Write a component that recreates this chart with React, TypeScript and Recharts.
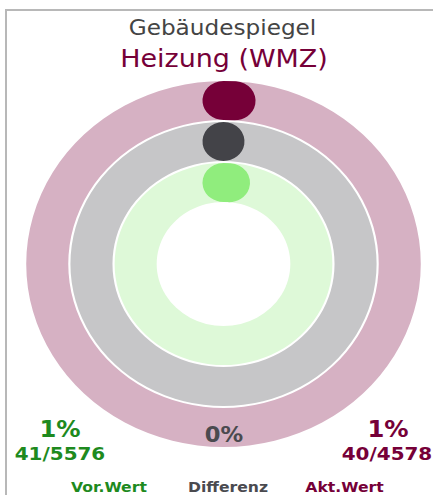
import { RadialBarChart, RadialBar, PolarAngleAxis, Cell } from "recharts"

const categories = ["Vor.Wert", "Differenz", "Akt.Wert"]
const percents = [1, 0, 1]
const fractions = ["41/5576", "", "40/4578"]
const FULL_SCALE = 100

const BAR_COLORS = ["#90ed7d", "#434348", "#760038"]
const TRACK_COLORS = ["#def9d8", "#c6c6c8", "#d6b1c3"]
const TEXT_COLORS = ["#1e8a1e", "#4a4a4f", "#760038"]

const CX = 223.5
const CY = 264
const STRETCH = 1.078
const FONT = "'DejaVu Sans', sans-serif"

// screen x -> x inside the horizontally stretched layer
const sx = (x: number) => CX + (x - CX) / STRETCH

const data = categories.map((name, i) => ({ name, value: percents[i], track: FULL_SCALE }))

export default function App() {
  return (
    <div
      style={{
        position: "absolute",
        left: 0,
        top: 0,
        width: 433,
        height: 495,
        overflow: "hidden",
        background: "#fff",
      }}
    >
      <div
        style={{
          position: "absolute",
          left: 5,
          top: 9,
          width: 600,
          height: 700,
          borderTop: "2px solid #b8b8b8",
          borderLeft: "2px solid #b8b8b8",
        }}
      />
      <div
        style={{
          position: "absolute",
          left: 0,
          top: 0,
          width: 433,
          height: 495,
          transform: `scaleX(${STRETCH})`,
          transformOrigin: `${CX}px 0px`,
        }}
      >
        <RadialBarChart
          width={433}
          height={495}
          cx={CX}
          cy={CY}
          innerRadius={61}
          outerRadius={184}
          startAngle={90}
          endAngle={-270}
          barCategoryGap={1}
          barGap={-39}
          data={data}
          margin={{ top: 0, right: 0, bottom: 0, left: 0 }}
        >
          <PolarAngleAxis type="number" domain={[0, FULL_SCALE]} tick={false} axisLine={false} />
          {/* full-circle tracks under the value bars */}
          <RadialBar dataKey="track" isAnimationActive={false}>
            {data.map((d, i) => (
              <Cell key={d.name} fill={TRACK_COLORS[i]} />
            ))}
          </RadialBar>
          <RadialBar
            dataKey="value"
            cornerRadius={19.5}
            cornerIsExternal
            minPointSize={0.01}
            isAnimationActive={false}
          >
            {data.map((d, i) => (
              <Cell key={d.name} fill={BAR_COLORS[i]} />
            ))}
          </RadialBar>
        </RadialBarChart>
        <svg
          width={433}
          height={495}
          style={{ position: "absolute", left: 0, top: 0, fontFamily: FONT }}
        >
          <text x={sx(222.5)} y={35} textAnchor="middle" fontSize={21.5} fill="#444">
            Gebäudespiegel
          </text>
          <text x={sx(224)} y={67} textAnchor="middle" fontSize={25} fill={TEXT_COLORS[2]}>
            Heizung (WMZ)
          </text>

          <text x={sx(60)} y={437} textAnchor="middle" fontSize={22.5} fontWeight="bold" fill={TEXT_COLORS[0]}>
            {percents[0]}%
          </text>
          <text x={sx(60)} y={460} textAnchor="middle" fontSize={18.5} fontWeight="bold" fill={TEXT_COLORS[0]}>
            {fractions[0]}
          </text>

          <text x={sx(224)} y={442} textAnchor="middle" fontSize={21} fontWeight="bold" fill={TEXT_COLORS[1]}>
            {percents[1]}%
          </text>

          <text x={sx(388)} y={437} textAnchor="middle" fontSize={22.5} fontWeight="bold" fill={TEXT_COLORS[2]}>
            {percents[2]}%
          </text>
          <text x={sx(387)} y={460} textAnchor="middle" fontSize={18.5} fontWeight="bold" fill={TEXT_COLORS[2]}>
            {fractions[2]}
          </text>

          {[109, 228, 344.5].map((x, i) => (
            <text
              key={categories[i]}
              x={sx(x)}
              y={492}
              textAnchor="middle"
              fontSize={14.5}
              fontWeight="bold"
              fill={TEXT_COLORS[i]}
            >
              {categories[i]}
            </text>
          ))}
        </svg>
      </div>
    </div>
  )
}
